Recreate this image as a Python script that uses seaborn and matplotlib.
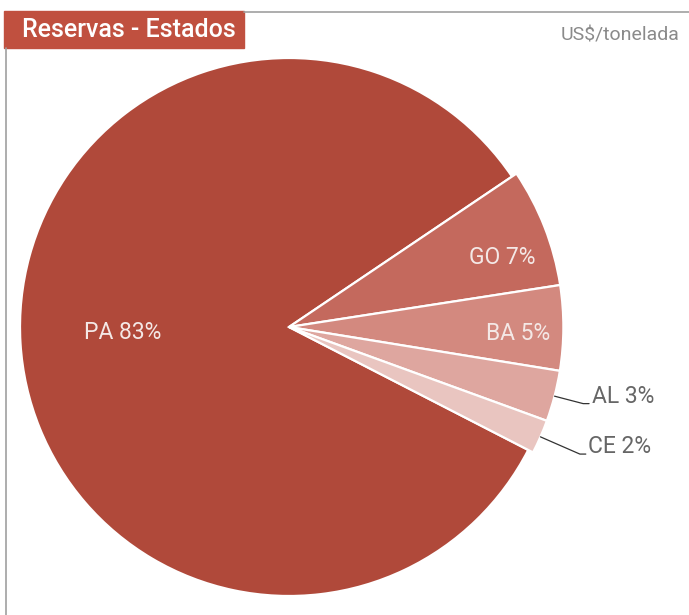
import numpy as np
import matplotlib.pyplot as plt
import seaborn as sns
from matplotlib.patches import Rectangle
from matplotlib.lines import Line2D

# data
estados = ["PA", "GO", "BA", "AL", "CE"]
percentuais = [83, 7, 5, 3, 2]
cores = ["#B0493A", "#C4695D", "#D3897F", "#DEA69F", "#E9C5C0"]

sns.set_theme(style="white")
plt.rcParams['font.family'] = ['Roboto', 'DejaVu Sans']

W, H = 689, 615
fig = plt.figure(figsize=(W / 100, H / 100), dpi=100)

# pie centre and radius in pixels
cx, cy, r = 289, 327, 269
ax = fig.add_axes([(cx - r) / W, (H - cy - r) / H, 2 * r / W, 2 * r / H])

wedges, _ = ax.pie(percentuais, colors=cores, startangle=332.8, counterclock=False,
                   wedgeprops=dict(edgecolor="white", linewidth=1.6))
for w in wedges[1:]:
    w.set_radius(1.02)
ax.set_xlim(-1, 1)
ax.set_ylim(-1, 1)
ax.set_aspect("equal")
ax.axis("off")

# labels
desloc = {0: 0.018, 1: -0.05, 2: -0.02}
elbow = {3: 1.13, 4: 1.18}
for i, (w, nome, p) in enumerate(zip(wedges, estados, percentuais)):
    mid = np.deg2rad((w.theta1 + w.theta2) / 2)
    txt = f"{nome} {p}%"
    if i < 3:
        d = 0.62 if i == 0 else 0.85
        ax.text(d * np.cos(mid), d * np.sin(mid) + desloc[i], txt, ha="center", va="center",
                color="#F4E8E6", fontsize=16.5)
    else:
        x0, y0 = 1.02 * np.cos(mid), 1.02 * np.sin(mid)
        x1, y1 = elbow[i] * np.cos(mid), elbow[i] * np.sin(mid)
        x2 = x1 + 0.022
        ax.plot([x0, x1, x2], [y0, y1, y1], color="#333333", lw=0.9, clip_on=False)
        ax.text(x2 + 0.01, y1 + 0.028, txt, ha="left", va="center",
                color="#666666", fontsize=16.5)

# frame lines and title box
fig.add_artist(Line2D([244 / W, 1], [1 - 11.5 / H] * 2, color="#A0A0A0", lw=1.2))
fig.add_artist(Line2D([5.5 / W] * 2, [0, 1 - 48 / H], color="#A0A0A0", lw=1.2))
fig.add_artist(Rectangle((4 / W, 1 - 48 / H), 240 / W, 37 / H, color="#C0503F",
                         transform=fig.transFigure))
fig.text(129 / W, 1 - 30 / H, "Reservas - Estados", ha="center", va="center",
         color="white", fontsize=18, fontweight="medium")
fig.text(680 / W, 1 - 36 / H, "US$/tonelada", ha="right", va="center",
         color="#8A8A8A", fontsize=14)

fig.savefig("out.png", dpi=100)
